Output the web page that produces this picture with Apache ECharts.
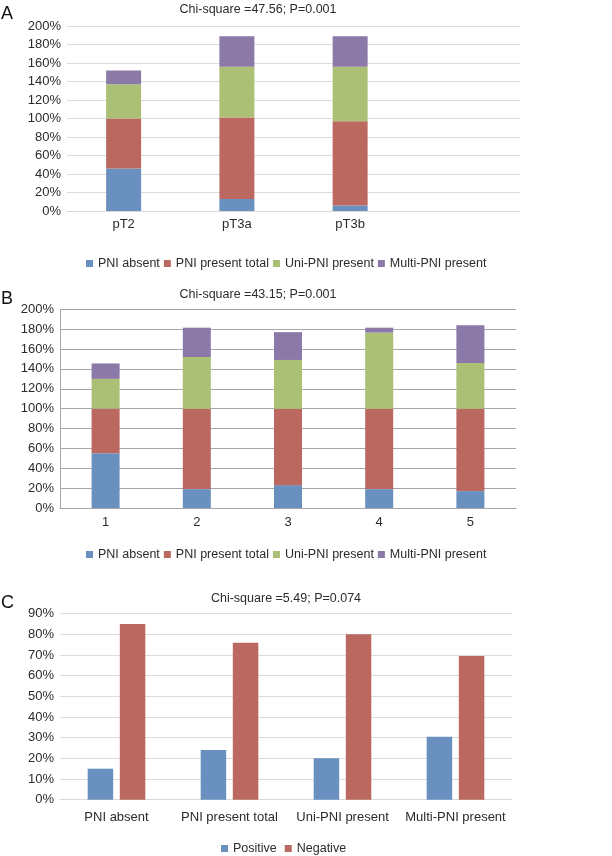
<!DOCTYPE html>
<html>
<head>
<meta charset="utf-8">
<script src="https://cdn.jsdelivr.net/npm/echarts@6/dist/echarts.min.js"></script>
<style>html,body{margin:0;padding:0;background:#fff;}#c{width:612px;height:856px;}</style>
</head>
<body>
<div id="c"></div>
<script>
// Panel A
const catsA = ['pT2', 'pT3a', 'pT3b', ''];
const absentA = [46, 13, 6, null];
const presentA = [54, 88, 91, null];
const uniA = [37, 55, 59, null];
const multiA = [15, 33, 33, null];
// Panel B
const catsB = ['1', '2', '3', '4', '5'];
const absentB = [55, 19, 23, 19, 17];
const presentB = [45, 81, 77, 81, 83];
const uniB = [30, 52, 49, 76.5, 46];
const multiB = [15.5, 29.5, 28, 5, 38];
// Panel C
const catsC = ['PNI absent', 'PNI present total', 'Uni-PNI present', 'Multi-PNI present'];
const positiveC = [15, 24, 20, 30.5];
const negativeC = [85, 76, 80, 69.5];
const seriesNames = ['PNI absent', 'PNI present total', 'Uni-PNI present', 'Multi-PNI present'];
const ticksA = [0, 200, 20];
const ticksC = [0, 90, 10];

const COL = { blue: '#6a90c0', red: '#bb6861', green: '#abbf75', purple: '#8b79a8' };
const FONT = 'Liberation Sans';
const TXT = '#2b2b2b';
const FS = 12.5;

const chart = echarts.init(document.getElementById('c'));

function yAxis(idx, range, gridColor, axisLine) {
  return {
    gridIndex: idx, type: 'value', min: range[0], max: range[1], interval: range[2],
    axisLabel: { formatter: '{value}%', fontFamily: FONT, fontSize: 13, color: TXT, margin: 6 },
    splitLine: { lineStyle: { color: gridColor, width: 1 } },
    axisLine: { show: axisLine, lineStyle: { color: gridColor } },
    axisTick: { show: false }
  };
}
function xAxis(idx, cats, lineColor, margin) {
  return {
    gridIndex: idx, type: 'category', data: cats,
    axisLabel: { fontFamily: FONT, fontSize: 13, color: TXT, margin: margin, interval: 0 },
    axisLine: { lineStyle: { color: lineColor } },
    axisTick: { show: false }
  };
}
function stackSeries(axisIdx, stackName, arrs, width) {
  const cols = [COL.blue, COL.red, COL.green, COL.purple];
  return arrs.map((d, i) => ({
    name: seriesNames[i], type: 'bar', stack: stackName,
    xAxisIndex: axisIdx, yAxisIndex: axisIdx, data: d, barWidth: width,
    itemStyle: { color: cols[i] }
  }));
}
const legendText = { fontFamily: FONT, fontSize: FS, color: TXT };
const titleStyle = { fontFamily: FONT, fontSize: FS, fontWeight: 'normal', color: TXT };
const letterStyle = { fontFamily: FONT, fontSize: 18, fontWeight: 'normal', color: '#111' };

chart.setOption({
  animation: false,
  title: [
    { text: 'Chi-square =47.56; P=0.001', left: 258, top: 3, padding: 0, textAlign: 'center', textStyle: titleStyle },
    { text: 'Chi-square =43.15; P=0.001', left: 258, top: 288.5, padding: 0, textAlign: 'center', textStyle: titleStyle },
    { text: 'Chi-square =5.49; P=0.074', left: 286, top: 592.5, padding: 0, textAlign: 'center', textStyle: titleStyle },
    { text: 'A', left: 1, top: 5, padding: 0, textStyle: letterStyle },
    { text: 'B', left: 1, top: 290, padding: 0, textStyle: letterStyle },
    { text: 'C', left: 1, top: 594, padding: 0, textStyle: letterStyle }
  ],
  legend: [
    { data: seriesNames, left: 81, top: 252, icon: 'rect', itemWidth: 7, itemHeight: 7, itemGap: 4, textStyle: legendText, selectedMode: false },
    { data: seriesNames, left: 81, top: 543, icon: 'rect', itemWidth: 7, itemHeight: 7, itemGap: 4, textStyle: legendText, selectedMode: false },
    { data: ['Positive', 'Negative'], left: 216, top: 837, icon: 'rect', itemWidth: 7, itemHeight: 7, itemGap: 8, textStyle: legendText, selectedMode: false }
  ],
  grid: [
    { left: 67, width: 453, top: 26, height: 185 },
    { left: 60, width: 456, top: 309.3, height: 198.7 },
    { left: 60, width: 452, top: 613.7, height: 186 }
  ],
  xAxis: [
    xAxis(0, catsA, '#d9d9d9', 7),
    xAxis(1, catsB, '#a6a6a6', 8),
    xAxis(2, catsC, '#d9d9d9', 11)
  ],
  yAxis: [
    yAxis(0, ticksA, '#dcdcdc', false),
    yAxis(1, ticksA, '#a6a6a6', true),
    yAxis(2, ticksC, '#dcdcdc', false)
  ],
  series: [
    ...stackSeries(0, 'A', [absentA, presentA, uniA, multiA], 35),
    ...stackSeries(1, 'B', [absentB, presentB, uniB, multiB], 28),
    { name: 'Positive', type: 'bar', xAxisIndex: 2, yAxisIndex: 2, data: positiveC, barWidth: 25.5, barGap: '26%', itemStyle: { color: COL.blue } },
    { name: 'Negative', type: 'bar', xAxisIndex: 2, yAxisIndex: 2, data: negativeC, barWidth: 25.5, barGap: '26%', itemStyle: { color: COL.red } }
  ]
});
</script>
</body>
</html>
